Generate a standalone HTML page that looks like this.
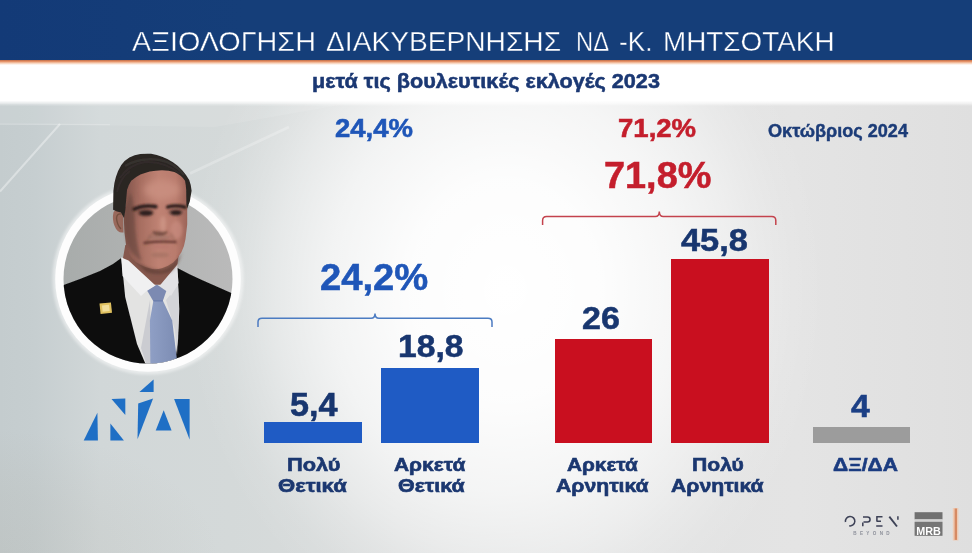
<!DOCTYPE html>
<html lang="el"><head><meta charset="utf-8"><title>ΑΞΙΟΛΟΓΗΣΗ ΔΙΑΚΥΒΕΡΝΗΣΗΣ</title>
<style>
html,body{margin:0;padding:0}
body{width:972px;height:553px;overflow:hidden;position:relative;font-family:"Liberation Sans",sans-serif;background:#e4e6e7}
#bg{position:absolute;left:0;top:0;width:972px;height:553px;background:
radial-gradient(ellipse 320px 368px at 505px 290px, rgba(255,255,255,1) 0%, rgba(255,255,255,0.93) 30%, rgba(255,255,255,0.78) 45%, rgba(255,255,255,0.68) 55%, rgba(255,255,255,0.55) 63%, rgba(255,255,255,0.40) 72%, rgba(255,255,255,0.24) 80%, rgba(255,255,255,0.08) 90%, rgba(255,255,255,0) 100%),
radial-gradient(ellipse 220px 130px at 0px 560px, rgba(150,140,120,0.11) 0%, rgba(150,140,120,0.07) 50%, rgba(150,140,120,0) 100%),
linear-gradient(90deg,#c4ccce 0%,#c6ced0 3.6%,#d1d7d8 10.3%,#d4d9d9 23.7%,#dbdddd 41%,#e1e2e2 62%,#e4e4e4 82%,#e0e0e0 96.7%,#dfdfdf 100%);}
#hdr{position:absolute;left:0;top:0;width:972px;height:60.3px;background:linear-gradient(90deg,#133a77 0%,#153e79 25%,#153e79 100%)}
#orange{position:absolute;left:0;top:60.1px;width:972px;height:5.4px;background:linear-gradient(#bd6b47 0%,#e48f64 28%,#f7cfb5 62%,#ffffff 100%)}
#white{position:absolute;left:0;top:65.3px;width:972px;height:40.4px;background:linear-gradient(#ffffff 0,#ffffff 87%,rgba(255,255,255,0.55) 94%,rgba(255,255,255,0) 100%)}
.t{position:absolute;white-space:nowrap;line-height:1;transform-origin:0 0;display:block;filter:blur(0.35px)}
.bar{position:absolute}
svg{position:absolute;left:0;top:0}
</style></head><body>
<div id="bg"></div>
<div id="hdr"></div><div id="orange"></div><div id="white"></div>
<svg width="972" height="553" viewBox="0 0 972 553">
<defs>
<filter id="soft" x="-5%" y="-5%" width="110%" height="110%"><feGaussianBlur stdDeviation="0.7"/></filter>
<filter id="soft2" x="-10%" y="-10%" width="120%" height="120%"><feGaussianBlur stdDeviation="1.6"/></filter>
<filter id="soft3" x="-10%" y="-10%" width="120%" height="120%"><feGaussianBlur stdDeviation="0.35"/></filter>
<filter id="soft4" x="-10%" y="-30%" width="120%" height="160%"><feGaussianBlur stdDeviation="0.9"/></filter>
<filter id="soft5" x="-30%" y="-30%" width="160%" height="160%"><feGaussianBlur stdDeviation="3"/></filter>
<clipPath id="inner"><circle cx="148" cy="279" r="84.5"/></clipPath>
<linearGradient id="pbg" x1="0" x2="1" y1="0" y2="0"><stop offset="0" stop-color="#a8acab"/><stop offset="1" stop-color="#babaBA"/></linearGradient>
<linearGradient id="skin" x1="0" x2="1" y1="0" y2="0"><stop offset="0" stop-color="#7d5148"/><stop offset="0.25" stop-color="#a66d60"/><stop offset="0.55" stop-color="#bf8273"/><stop offset="0.82" stop-color="#b97b6d"/><stop offset="1" stop-color="#9c6458"/></linearGradient>
<linearGradient id="tie" x1="0" x2="1" y1="0" y2="0"><stop offset="0" stop-color="#8f9fc5"/><stop offset="1" stop-color="#7c8cb3"/></linearGradient>
</defs>
<!-- bg rays -->
<g filter="url(#soft)">
<polygon points="0,105 340,105 215,127 0,124" fill="#ffffff" opacity="0.10"/>

<path d="M60 124 L0 191.5" stroke="#ffffff" stroke-width="2" opacity="0.38"/>
<path d="M0 124.2 L110 124.6" stroke="#ffffff" stroke-width="1.4" opacity="0.2"/>
<path d="M190 173.5 L289 127" stroke="#ffffff" stroke-width="3" opacity="0.24"/>
</g>
<!-- brackets -->
<path d="M258 327 V322 Q258 318.3 262 318.3 H371 Q375 318.3 375 313.5 Q375 318.3 379 318.3 H488 Q492 318.3 492 322 V327" fill="none" stroke="#4c7bc2" stroke-width="1.5" filter="url(#soft3)"/>
<path d="M542.6 225 V220.5 Q542.6 216.5 546.6 216.5 H655.3 Q659.3 216.5 659.3 211.5 Q659.3 216.5 663.3 216.5 H771.8 Q775.8 216.5 775.8 220.5 V225" fill="none" stroke="#c4434d" stroke-width="1.5" filter="url(#soft3)"/>
<!-- ND logo -->
<g fill="#1f6fc5">
<polygon points="83.7,440.5 97.4,412.7 97.9,440.5"/>
<polygon points="111.5,398.9 125.3,398.5 125.3,415.1"/>
<polygon points="110.4,423.5 110.4,440.5 123.9,440.5"/>
<polygon points="139.4,392 153.6,379.4 153.6,392"/>
<polygon points="138.2,403.6 153.1,398.5 137.5,439.2"/>
<polygon points="163.7,410.2 155.7,430.5 171.6,430.5"/>
<polygon points="174.1,398.9 189.6,398.9 189.6,439.4"/>
</g>
<!-- OPEN BEYOND -->
<g fill="none" stroke="#3e4257" stroke-width="1.55" stroke-linecap="butt" filter="url(#soft3)">
<path d="M845.5 522 A4.7 4.7 0 1 1 849.2 525.8"/>
<path d="M862.8 522.6 V526.2"/>
<path d="M863 516.9 H867.5 A2.55 2.55 0 0 1 867.5 522 H863.5"/>
<path d="M876.2 516.8 H882.5 M876.9 516.8 V521.2 M876.5 521.2 H881 M876.2 526 H882.5"/>
<path d="M889.3 516.6 L897 526.5" stroke-width="1.9"/>
<path d="M897.9 516.3 V519.8"/>
</g>
<text x="853.2" y="535" font-family="Liberation Sans, sans-serif" font-size="4.6" font-weight="700" fill="#8d909a" textLength="36.5" lengthAdjust="spacing" filter="url(#soft3)">BEYOND</text>
<!-- MRB -->
<g filter="url(#soft3)">
<rect x="914.6" y="512.2" width="27.9" height="7.2" fill="#707070"/>
<rect x="914.6" y="519.4" width="27.9" height="2.4" fill="#d2d2d2"/>
<rect x="914.6" y="521.8" width="27.9" height="14" fill="#747474"/>
<text x="916.3" y="534.6" font-family="Liberation Sans, sans-serif" font-size="11.3" font-weight="700" fill="#ffffff" textLength="24.6" lengthAdjust="spacingAndGlyphs">MRB</text>
</g>
<!-- orange line -->
<rect x="952.8" y="508" width="5.6" height="32.5" fill="#f3c4a6" opacity="0.75" filter="url(#soft)"/>
<rect x="954.6" y="508.5" width="2.4" height="31.4" fill="#d68a64" filter="url(#soft3)"/>
<!-- portrait -->
<g id="portrait">
<circle cx="148" cy="279" r="95.5" fill="#ffffff" opacity="0.5" filter="url(#soft2)"/>
<circle cx="148" cy="279" r="92.8" fill="#fdfdfd"/>
<circle cx="148" cy="279" r="84.5" fill="url(#pbg)"/>
<g filter="url(#soft)">
<g clip-path="url(#inner)">
<!-- suit -->
<path d="M58 287 L80 279 L100 271 L113 264 L121.3 258 L150 300 L177.4 268 L190 274.5 L203 280.5 L236 295 L236 370 L58 370 Z" fill="#0f0f10"/>
<!-- shirt -->
<path d="M121.3 257.8 L125.2 297 L137 344 L146.4 366 L175 362 L178.1 339 L179.3 309 L177.4 268 L160 262 L135 258 Z" fill="#e3e3e2"/>
<path d="M150 300 L141 348 L147 366 L152 364 Z" fill="#cbccd1"/>
<path d="M166 300 L175 330 L177 355 L179 310 L178 285 Z" fill="#d3d4d8"/>
<!-- tie -->
<path d="M153.4 300.5 L162.8 300.5 L172.2 320.5 L177.2 362 L150.4 366 L149.9 320.5 Z" fill="url(#tie)"/>
<path d="M146.8 290 L156.9 284.6 L166.3 291.1 L162.8 301 L153.2 301 Z" fill="#7c8ab2"/>
<path d="M153.4 300.8 L162.8 300.8" stroke="#6a7cab" stroke-width="1.2"/>
<!-- lapel pin -->
<rect x="100" y="303" width="11.5" height="10.5" fill="#dfc05e" transform="rotate(-6 105.7 308.2)"/>
<rect x="102.3" y="305.1" width="7" height="6.4" fill="#f1de9c" transform="rotate(-6 105.7 308.2)"/>
</g>
<!-- neck -->
<path d="M125.3 245 L122.9 258.6 L130 263 L153.8 284.8 L161 284.8 L176.6 270 L178.2 258.6 L180 248 Z" fill="#86594d"/>
<!-- collar flaps -->
<path d="M121.3 257.6 L128.5 260.5 L155.5 285.5 L146 291.5 L141 296 L122.5 276 Z" fill="#f0f0f1"/>
<path d="M177.2 268.2 L177.8 264 L160 285.2 L166.8 291 L171 296 L178.6 283 Z" fill="#e2e2e5"/>
<!-- ear -->
<path d="M123 211 Q116.5 207 113.6 212 Q111.8 219 114.6 226 Q117.5 233.5 123.5 232.5 Z" fill="#99695c"/>
<path d="M121.5 214 Q117 213 116.5 218 Q117 225 121 229" fill="none" stroke="#74503f" stroke-width="1.4"/>
<!-- face -->
<path d="M125.4 205 L123.7 216.3 L124.5 232.5 L126.1 245.6 Q127.5 252 131 256.9 Q135 262 140.8 265.1 Q146 268 152.2 269.1 Q157 269.6 161.9 268.3 Q168 266.5 173.3 262.6 Q178.5 258 181.5 252.1 Q184.5 246 185.5 239 L187.2 224.4 L187.2 209.8 L186.9 190 L185.7 180 L181 175 L174 171 L162 169.3 L149 170.4 L140 173.5 L130.5 180 L126 190 Z" fill="url(#skin)"/>
</g>
<!-- soft shading layers -->
<g filter="url(#soft2)">
<ellipse cx="162" cy="190" rx="18" ry="10" fill="#ca9081" opacity="0.85" filter="url(#soft5)"/>
<ellipse cx="176.5" cy="230" rx="6" ry="9" fill="#c98d80" opacity="0.65"/>
<ellipse cx="163" cy="224" rx="3" ry="8" fill="#d09989" opacity="0.7"/>
<path d="M125 208 L130.5 192 Q134 203 134.5 216 Q135 242 142 262 Q132 255 128 245 Q124.5 232 124.5 220 Z" fill="#66443b" opacity="0.6"/>
<path d="M131 257 Q146 270 160.5 270.5 Q173 269 182 252 Q178 266 170 272 Q158 276 146 272 Z" fill="#5c3b33" opacity="0.7"/>
<ellipse cx="145.5" cy="212.5" rx="8.5" ry="4" fill="#553830" opacity="0.6"/>
<ellipse cx="175.5" cy="212" rx="7.5" ry="3.8" fill="#553830" opacity="0.5"/>
<ellipse cx="159" cy="233.2" rx="6.5" ry="2.2" fill="#6a4238" opacity="0.6"/>
<ellipse cx="160" cy="237.6" rx="11" ry="2.4" fill="#8a6a62" opacity="0.45"/>
<ellipse cx="161" cy="246.6" rx="9" ry="2.4" fill="#b8756c" opacity="0.6"/>
<ellipse cx="160" cy="255" rx="9" ry="2.5" fill="#8b6353" opacity="0.4"/>
<path d="M151.5 234 Q147 240 145.5 245" stroke="#7a5245" stroke-width="1.6" fill="none" opacity="0.55"/>
<path d="M170.5 233 Q175 239 176.5 244" stroke="#7a5245" stroke-width="1.6" fill="none" opacity="0.5"/>
</g>
<g filter="url(#soft)">
<!-- hair -->
<path d="M124 218 L121 212.5 L117 211.5 L113.1 209.7 L113.4 190.7 Q114 183 115.9 177.1 Q118 170 121.3 164.9 Q125 160 129.4 157.5 Q134.5 155 140.3 154.1 Q145.5 153.5 151.1 153.8 Q157 154.8 162 156.8 Q168 159 172.9 162.2 Q178 165.5 182.4 170.4 Q186.5 175 189.2 179.9 Q191.2 185 191.6 190.7 L189.8 201.6 L187.1 208.4 L186.4 204.3 L186.2 190 Q185.9 184.5 185 180.7 Q183 177.8 180.6 175.8 Q177.8 173.6 174.4 172 Q168.5 170.3 162 170.2 Q155.5 170.4 149.7 171.4 Q144.8 172.6 140.4 174.5 Q135.3 177.2 131.2 180.7 Q128.5 184.8 127 190 L126 201.6 L125.4 209.7 Z" fill="#2a2523"/>
<path d="M125 166 Q140 157 160 160 Q175 163 184 175" fill="none" stroke="#3f3935" stroke-width="2.5" opacity="0.6"/>
<path d="M120 178 Q128 165 145 162 Q165 161 180 174" fill="none" stroke="#3a3431" stroke-width="2" opacity="0.5"/>
<path d="M117 192 Q120 178 130 171" fill="none" stroke="#3a3431" stroke-width="2" opacity="0.5"/>
</g>
<g filter="url(#soft4)">
<!-- eyebrows -->
<path d="M134.2 209.2 Q143 204.6 155.8 206.6" stroke="#2a1d1a" stroke-width="3.6" fill="none" stroke-linecap="round"/>
<path d="M167.6 207 Q176 204.6 185 207.2" stroke="#2a1d1a" stroke-width="3.3" fill="none" stroke-linecap="round"/>
<!-- eyes -->
<ellipse cx="146" cy="213" rx="6.4" ry="2.3" fill="#2c1f1c"/>
<ellipse cx="176" cy="212.6" rx="5.4" ry="2.2" fill="#2c1f1c"/>
<!-- nose -->
<path d="M153 231.5 Q155.5 234.6 160 233.8 Q164.5 234.8 167.2 231.6" stroke="#69443a" stroke-width="1.8" fill="none" opacity="0.85"/>
<!-- mouth -->
<path d="M144.4 242.8 Q160 240.8 175.4 242" stroke="#653832" stroke-width="2.2" fill="none" stroke-linecap="round"/>
</g>
</g>
</g>
</svg>

<div class="bar" style="left:263.7px;top:421.8px;width:98.7px;height:21.0px;background:#1f5bc4"></div>
<div class="bar" style="left:380.7px;top:367.8px;width:97.9px;height:75.0px;background:#1f5bc4"></div>
<div class="bar" style="left:554.9px;top:339.0px;width:96.7px;height:103.8px;background:#c90f1f"></div>
<div class="bar" style="left:670.5px;top:259.0px;width:98.3px;height:183.8px;background:#c90f1f"></div>
<div class="bar" style="left:812.8px;top:426.9px;width:97.6px;height:15.7px;background:#9c9c9c"></div>
<span class="t" style="left:132.20px;top:27.73px;font-size:27.37px;color:#ffffff;font-weight:400;transform:scaleX(1.0515);-webkit-text-stroke:0.35px #153e79;">ΑΞΙΟΛΟΓΗΣΗ</span>
<span class="t" style="left:325.60px;top:27.73px;font-size:27.37px;color:#ffffff;font-weight:400;transform:scaleX(1.0290);-webkit-text-stroke:0.35px #153e79;">ΔΙΑΚΥΒΕΡΝΗΣΗΣ</span>
<span class="t" style="left:576.40px;top:27.73px;font-size:27.37px;color:#ffffff;font-weight:400;transform:scaleX(0.8673);-webkit-text-stroke:0.35px #153e79;">ΝΔ</span>
<span class="t" style="left:618.60px;top:27.73px;font-size:27.37px;color:#ffffff;font-weight:400;transform:scaleX(0.9551);-webkit-text-stroke:0.35px #153e79;">-Κ.</span>
<span class="t" style="left:663.40px;top:27.73px;font-size:27.37px;color:#ffffff;font-weight:400;transform:scaleX(1.0185);-webkit-text-stroke:0.35px #153e79;">ΜΗΤΣΟΤΑΚΗ</span>
<span class="t" style="left:311.50px;top:72.15px;font-size:19.55px;color:#1b3873;font-weight:700;transform:scaleX(1.1076);-webkit-text-stroke:0.5px currentColor;">μετά τις βουλευτικές εκλογές 2023</span>
<span class="t" style="left:335.00px;top:116.18px;font-size:25.42px;color:#1f56b8;font-weight:700;transform:scaleX(1.0824);-webkit-text-stroke:0.55px currentColor;">24,4%</span>
<span class="t" style="left:618.20px;top:116.18px;font-size:25.42px;color:#c41e2c;font-weight:700;transform:scaleX(1.0838);-webkit-text-stroke:0.55px currentColor;">71,2%</span>
<span class="t" style="left:767.50px;top:122.16px;font-size:18.72px;color:#1c3c78;font-weight:700;transform:scaleX(0.9672);-webkit-text-stroke:0.45px currentColor;">Οκτώβριος 2024</span>
<span class="t" style="left:603.50px;top:157.59px;font-size:36.87px;color:#c41e2c;font-weight:700;transform:scaleX(1.0274);-webkit-text-stroke:0.55px currentColor;">71,8%</span>
<span class="t" style="left:319.80px;top:260.42px;font-size:36.59px;color:#1f56b8;font-weight:700;transform:scaleX(1.0430);-webkit-text-stroke:0.55px currentColor;">24,2%</span>
<span class="t" style="left:680.90px;top:224.64px;font-size:31.84px;color:#18366f;font-weight:700;transform:scaleX(1.0804);-webkit-text-stroke:0.55px currentColor;">45,8</span>
<span class="t" style="left:581.70px;top:302.94px;font-size:31.15px;color:#18366f;font-weight:700;transform:scaleX(1.0909);-webkit-text-stroke:0.55px currentColor;">26</span>
<span class="t" style="left:398.00px;top:331.24px;font-size:31.84px;color:#18366f;font-weight:700;transform:scaleX(1.0562);-webkit-text-stroke:0.55px currentColor;">18,8</span>
<span class="t" style="left:289.90px;top:388.57px;font-size:32.40px;color:#18366f;font-weight:700;transform:scaleX(1.0546);-webkit-text-stroke:0.55px currentColor;">5,4</span>
<span class="t" style="left:851.00px;top:390.53px;font-size:30.45px;color:#1b3f85;font-weight:700;transform:scaleX(1.1066);-webkit-text-stroke:0.55px currentColor;">4</span>
<span class="t" style="left:286.70px;top:455.78px;font-size:18.58px;color:#1b3770;font-weight:700;transform:scaleX(1.1732);-webkit-text-stroke:0.6px currentColor;">Πολύ</span>
<span class="t" style="left:278.30px;top:476.88px;font-size:18.58px;color:#1b3770;font-weight:700;transform:scaleX(1.1873);-webkit-text-stroke:0.6px currentColor;">Θετικά</span>
<span class="t" style="left:394.30px;top:455.78px;font-size:18.58px;color:#1b3770;font-weight:700;transform:scaleX(1.1265);-webkit-text-stroke:0.6px currentColor;">Αρκετά</span>
<span class="t" style="left:397.80px;top:476.88px;font-size:18.58px;color:#1b3770;font-weight:700;transform:scaleX(1.1510);-webkit-text-stroke:0.6px currentColor;">Θετικά</span>
<span class="t" style="left:566.70px;top:455.78px;font-size:18.58px;color:#1b3770;font-weight:700;transform:scaleX(1.1186);-webkit-text-stroke:0.6px currentColor;">Αρκετά</span>
<span class="t" style="left:556.00px;top:476.88px;font-size:18.58px;color:#1b3770;font-weight:700;transform:scaleX(1.1408);-webkit-text-stroke:0.6px currentColor;">Αρνητικά</span>
<span class="t" style="left:691.90px;top:455.78px;font-size:18.58px;color:#1b3770;font-weight:700;transform:scaleX(1.1359);-webkit-text-stroke:0.6px currentColor;">Πολύ</span>
<span class="t" style="left:670.90px;top:476.88px;font-size:18.58px;color:#1b3770;font-weight:700;transform:scaleX(1.1408);-webkit-text-stroke:0.6px currentColor;">Αρνητικά</span>
<span class="t" style="left:833.00px;top:456.06px;font-size:18.72px;color:#1b3c80;font-weight:700;transform:scaleX(1.1259);-webkit-text-stroke:0.6px currentColor;">ΔΞ/ΔΑ</span>
</body></html>
